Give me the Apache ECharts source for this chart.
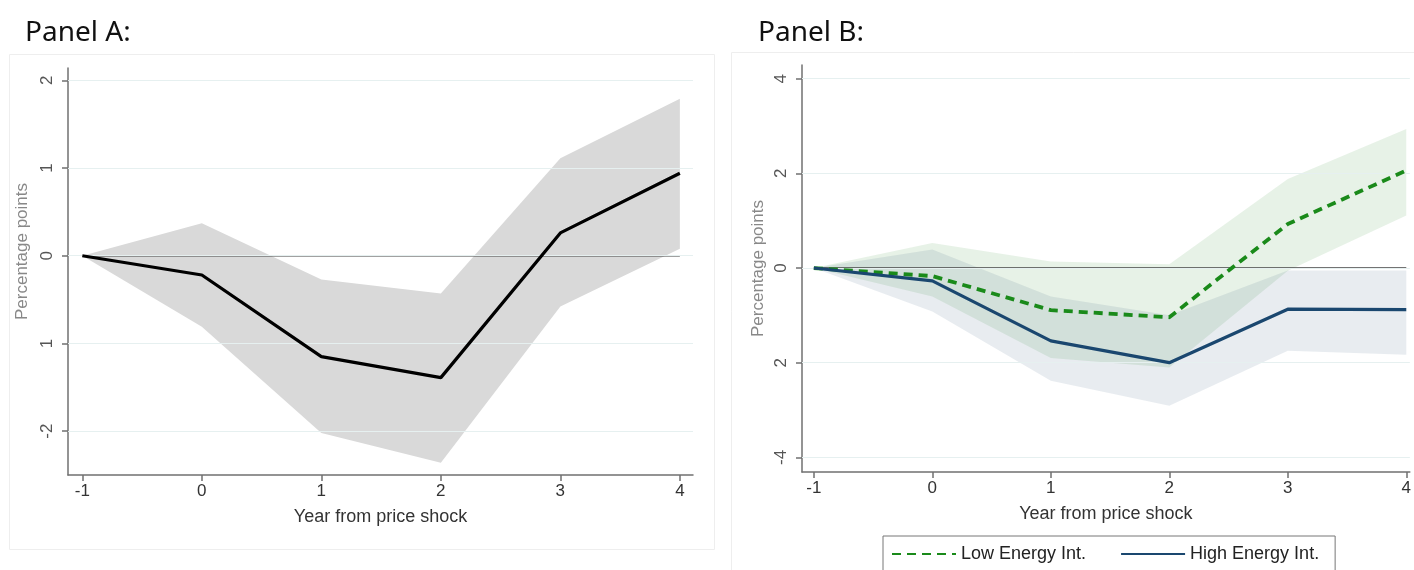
<!DOCTYPE html>
<html><head><meta charset="utf-8">
<script src="https://cdn.jsdelivr.net/npm/echarts@6/dist/echarts.min.js"></script>
<style>html,body{margin:0;padding:0;background:#fff}#c{width:1414px;height:570px}</style>
</head><body><div id="c"></div>
<script>
// ---- data ----
const years = [-1, 0, 1, 2, 3, 4];
const xTickLabels = ['-1', '0', '1', '2', '3', '4'];
// Panel A
const aEstimate = [0, -0.22, -1.15, -1.39, 0.26, 0.94];
const aUpper    = [0, 0.37, -0.27, -0.43, 1.11, 1.79];
const aLower    = [0, -0.81, -2.02, -2.36, -0.58, 0.08];
const aYTicks = [2, 1, 0, -1, -2];
const aYTickLabels = ['2', '1', '0', '1', '-2'];
// Panel B
const bLowEst    = [0, -0.17, -0.89, -1.04, 0.93, 2.06];
const bLowUpper  = [0, 0.53, 0.14, 0.08, 1.88, 2.94];
const bLowLower  = [0, -0.60, -1.90, -2.10, -0.06, 1.11];
const bHighEst   = [0, -0.27, -1.54, -2.00, -0.87, -0.88];
const bHighUpper = [0, 0.39, -0.60, -1.00, -0.05, -0.05];
const bHighLower = [0, -0.92, -2.38, -2.91, -1.75, -1.83];
const bYTicks = [4, 2, 0, -2, -4];
const bYTickLabels = ['4', '2', '0', '2', '-4'];
const seriesNames = ['Low Energy Int.', 'High Energy Int.'];

// ---- chart ----
const FONT = '"Liberation Sans", Arial, sans-serif';
const axisColor = '#707070';
const gridColor = '#e6f0f0';

function xAxisCfg(gi, min, max) {
  return {
    type: 'value', gridIndex: gi, min: min, max: max,
    axisLine: {show: true, onZero: false, lineStyle: {color: axisColor, width: 1.5}},
    axisTick: {show: true, customValues: years, length: 6, lineStyle: {color: axisColor, width: 1.5}},
    axisLabel: {customValues: years, formatter: v => xTickLabels[years.indexOf(v)], color: '#333', fontSize: 17, fontFamily: FONT, margin: 8},
    splitLine: {show: false},
    name: 'Year from price shock', nameLocation: 'middle', nameGap: 33,
    nameTextStyle: {color: '#333', fontSize: 18, fontFamily: FONT}
  };
}
function yAxisCfg(gi, min, max, ticks, labels, shift, gap) {
  return {
    type: 'value', gridIndex: gi, min: min, max: max,
    axisLine: {show: true, onZero: false, lineStyle: {color: axisColor, width: 1.5}},
    axisTick: {show: true, customValues: ticks, length: 6, lineStyle: {color: axisColor, width: 1.5}},
    axisLabel: {customValues: ticks, formatter: v => labels[ticks.indexOf(v)], rotate: 90, color: '#555', fontSize: 17, fontFamily: FONT, margin: 12},
    splitLine: {show: false},
    name: 'Percentage points', nameLocation: 'middle', nameGap: gap, nameRotate: 90,
    nameTextStyle: {color: '#888', fontSize: 17, fontFamily: FONT, padding: [0, 0, 0, shift]}
  };
}
function bandSeries(xi, lower, upper, color, z) {
  const data = years.map((x, i) => [x, lower[i], upper[i]]);
  return {
    type: 'custom', xAxisIndex: xi, yAxisIndex: xi, z: z, silent: true,
    encode: {x: 0, y: [1, 2]},
    data: data,
    renderItem: function (params, api) {
      if (params.dataIndex !== 0) return;
      const pts = [];
      data.forEach(d => pts.push(api.coord([d[0], d[2]])));
      for (let i = data.length - 1; i >= 0; i--) pts.push(api.coord([data[i][0], data[i][1]]));
      return {type: 'polygon', shape: {points: pts}, style: {fill: color}};
    }
  };
}
function gridLines(xi, ticks) {
  return {
    type: 'line', xAxisIndex: xi, yAxisIndex: xi, data: [], silent: true, z: 1,
    markLine: {silent: true, symbol: 'none', label: {show: false},
      lineStyle: {color: gridColor, width: 1.2, type: 'solid'},
      data: ticks.map(t => ({yAxis: t}))}
  };
}
function zeroLine(xi) {
  return {type: 'line', xAxisIndex: xi, yAxisIndex: xi, data: [[years[0], 0], [years[years.length - 1], 0]],
    symbol: 'none', silent: true, z: 4, lineStyle: {color: '#444', width: 1.6}};
}

const chart = echarts.init(document.getElementById('c'), null, {renderer: 'canvas'});
chart.setOption({
  animation: false,
  backgroundColor: '#fff',
  title: [
    {text: 'Panel A:', left: 20, top: 14, textStyle: {fontFamily: '"Noto Sans", sans-serif', fontWeight: 'normal', fontSize: 28, color: '#111'}},
    {text: 'Panel B:', left: 753, top: 14, textStyle: {fontFamily: '"Noto Sans", sans-serif', fontWeight: 'normal', fontSize: 28, color: '#111'}}
  ],
  graphic: [
    {type: 'rect', left: 7, top: 52, shape: {width: 705, height: 495}, style: {fill: 'none', stroke: '#eeeeee', lineWidth: 1}, silent: true, z: -1},
    {type: 'rect', left: 729, top: 50, shape: {width: 720, height: 560}, style: {fill: 'none', stroke: '#eeeeee', lineWidth: 1}, silent: true, z: -1}
  ],
  grid: [
    {left: 68, top: 68, width: 625, height: 407},
    {left: 802, top: 65, width: 610, height: 407}
  ],
  xAxis: [xAxisCfg(0, -1.12, 4.11), xAxisCfg(1, -1.10, 4.03)],
  yAxis: [yAxisCfg(0, -2.5, 2.14, aYTicks, aYTickLabels, 40, 37), yAxisCfg(1, -4.31, 4.29, bYTicks, bYTickLabels, 0, 35)],
  legend: {
    data: seriesNames, left: 883, top: 536, orient: 'horizontal',
    itemWidth: 64, itemHeight: 12, itemGap: 34,
    itemStyle: {opacity: 0},
    borderColor: '#777', borderWidth: 1, padding: [9, 16, 20, 8],
    textStyle: {fontFamily: FONT, fontSize: 18, color: '#222'}
  },
  series: [
    gridLines(0, aYTicks),
    bandSeries(0, aLower, aUpper, '#d9d9d9', 2),
    zeroLine(0),
    {type: 'line', xAxisIndex: 0, yAxisIndex: 0, z: 5, data: years.map((x, i) => [x, aEstimate[i]]),
      symbol: 'none', lineStyle: {color: '#000', width: 3.2}},

    gridLines(1, bYTicks),
    bandSeries(1, bLowLower, bLowUpper, 'rgba(40,140,40,0.11)', 2),
    bandSeries(1, bHighLower, bHighUpper, 'rgba(26,71,111,0.10)', 2),
    zeroLine(1),
    {name: seriesNames[0], type: 'line', xAxisIndex: 1, yAxisIndex: 1, z: 5, data: years.map((x, i) => [x, bLowEst[i]]),
      symbol: 'none', itemStyle: {color: '#1a8a1a'}, lineStyle: {color: '#1a8a1a', width: 3.8, type: [9, 6]}},
    {name: seriesNames[1], type: 'line', xAxisIndex: 1, yAxisIndex: 1, z: 5, data: years.map((x, i) => [x, bHighEst[i]]),
      symbol: 'none', itemStyle: {color: '#1a476f'}, lineStyle: {color: '#1a476f', width: 3.2}}
  ]
});
</script>
</body></html>
